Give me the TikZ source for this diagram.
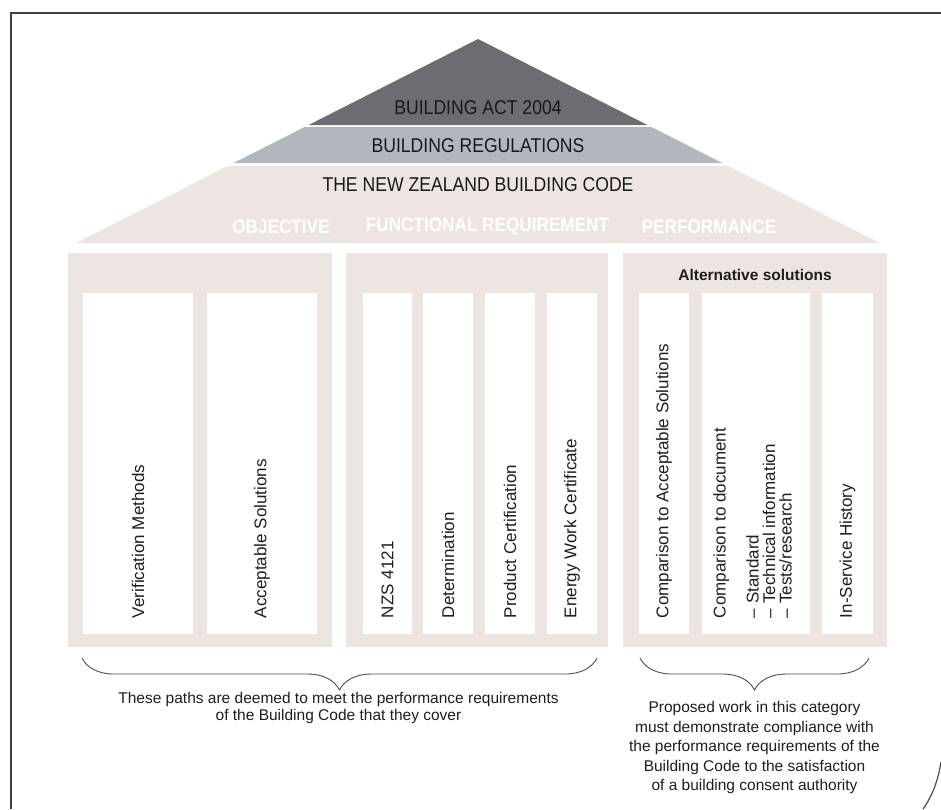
\documentclass[tikz,border=0pt]{standalone}
\usepackage{fontspec}
\setmainfont{Liberation Sans}
\newfontfamily\narrowfont[FakeStretch=0.88]{Liberation Sans}
\usetikzlibrary{decorations.pathreplacing}

\definecolor{actgray}{HTML}{6C6D72}
\definecolor{reggray}{HTML}{B2B7BE}
\definecolor{codebeige}{HTML}{EDE5E1}
\definecolor{inkgray}{HTML}{1E1E1E}

\begin{document}
\begin{tikzpicture}[y=1pt, x=1pt, yscale=-1, inner sep=0pt, outer sep=0pt,
  band/.style={fill=#1},
  panel/.style={fill=codebeige},
  pathbox/.style={fill=white},
  tier/.style={font=\narrowfont\fontsize{20}{22}\selectfont, text=black!90},
  strand/.style={font=\narrowfont\bfseries\fontsize{19.5}{22}\selectfont, text=white},
  upright/.style={rotate=90, anchor=west, font=\fontsize{17}{16.5}\selectfont, text=inkgray, align=left},
  note/.style={font=\fontsize{15.5}{19.5}\selectfont, text=inkgray, align=center},
  curly/.style={draw=black!70, line width=0.9pt, decorate, decoration={brace, mirror, amplitude=32pt}},
  frameline/.style={draw=black!75, line width=2pt}]

  \useasboundingbox (0,0) rectangle (941,809);

  % page frame
  \path[frameline] (941,13) -- (11,13) -- (11,809);
  \path[draw=black!70, line width=1.2pt] (923,809) .. controls (933,795) and (938,780) .. (941,762);

  % roof of the house
  \path[band=actgray] (478,39) -- (647.4,125) -- (308.6,125) -- cycle;
  \path[band=reggray] (304.6,127) -- (651.4,127) -- (722.3,163) -- (233.7,163) -- cycle;
  \path[band=codebeige] (227.8,166) -- (728.2,166) -- (879.9,243) -- (76.1,243) -- cycle;

  \path (478,108) node[tier] (act) {BUILDING ACT 2004};
  \path (478,146) node[tier] (regs) {BUILDING REGULATIONS};
  \path (478,185) node[tier] (code) {THE NEW ZEALAND BUILDING CODE};

  \path (281,227) node[strand] (objective) {OBJECTIVE};
  \path (487.5,227) node[strand] (functional) {FUNCTIONAL REQUIREMENT};
  \path (709,227) node[strand] (performance) {PERFORMANCE};

  % the three pillars
  \path[panel] (68,253) rectangle (332,647);
  \path[panel] (346,253) rectangle (608,647);
  \path[panel] (623,253) rectangle (887,647);

  % left pillar
  \path[pathbox] (83,293) rectangle (193,634);
  \path[pathbox] (207,293) rectangle (317,634);
  \path (138,618) node[upright] (verif) {Verification Methods};
  \path (262,618) node[upright] (accsol) {Acceptable Solutions};

  % middle pillar
  \path[pathbox] (363,293) rectangle (412,634);
  \path[pathbox] (423,293) rectangle (473,634);
  \path[pathbox] (485,293) rectangle (535,634);
  \path[pathbox] (547,293) rectangle (597,634);
  \path (387.5,618) node[upright] (nzs) {NZS 4121};
  \path (448,618) node[upright] (determ) {Determination};
  \path (510,618) node[upright] (prodcert) {Product Certification};
  \path (572,618) node[upright] (energy) {Energy Work Certificate};

  % right pillar
  \path (755,275) node[font=\bfseries\fontsize{15.5}{18}\selectfont, text=inkgray] (altsol) {Alternative solutions};
  \path[pathbox] (639,293) rectangle (689,634);
  \path[pathbox] (702,293) rectangle (810,634);
  \path[pathbox] (822,293) rectangle (873,634);
  \path (664,618) node[upright] (compacc) {Comparison to Acceptable Solutions};
  \path (752.5,618) node[upright] (compdoc) {Comparison to document\\[16.5pt]
    -- Standard\\-- Technical information\\-- Tests/research};
  \path (847.5,618) node[upright] (inservice) {In-Service History};

  % braces and notes
  \coordinate (deemL) at (82,658);
  \coordinate (deemR) at (597,658);
  \coordinate (altL) at (640,658);
  \coordinate (altR) at (869,658);
  \path[curly] (deemL) -- (deemR);
  \path[curly] (altL) -- (altR);

  \path (338.5,708) node[note, font=\fontsize{15.5}{17.5}\selectfont] (deemnote)
    {These paths are deemed to meet the performance requirements\\of the Building Code that they cover};
  \path (754.5,747.5) node[note] (altnote)
    {Proposed work in this category\\must demonstrate compliance with\\the performance requirements of the\\Building Code to the satisfaction\\of a building consent authority};

\end{tikzpicture}
\end{document}
